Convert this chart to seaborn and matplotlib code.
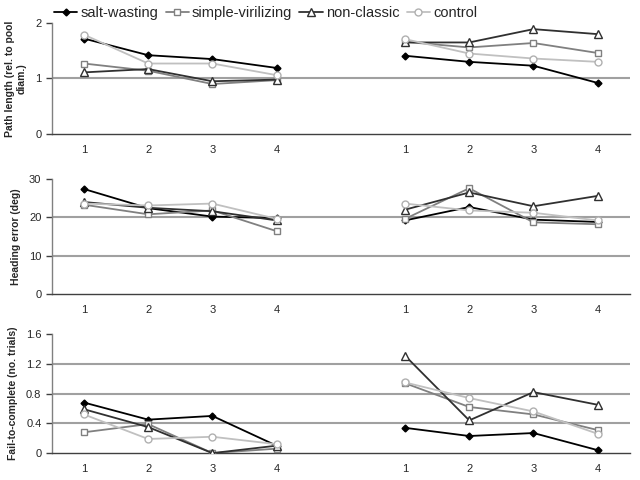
import pandas as pd
import seaborn as sns
import matplotlib.pyplot as plt
from matplotlib.lines import Line2D

# sessions 1-4 in two blocks, one empty slot between them
positions = [0, 1, 2, 3, 5, 6, 7, 8]
block = ["A"] * 4 + ["B"] * 4
tick_labels = ["1", "2", "3", "4", "", "1", "2", "3", "4"]

groups = ["salt-wasting", "simple-virilizing", "non-classic", "control"]

path_length = {
    "salt-wasting":      [1.72, 1.42, 1.35, 1.19, 1.41, 1.30, 1.23, 0.92],
    "simple-virilizing": [1.27, 1.14, 0.90, 0.97, 1.66, 1.56, 1.64, 1.46],
    "non-classic":       [1.11, 1.17, 0.95, 0.98, 1.65, 1.65, 1.89, 1.80],
    "control":           [1.79, 1.27, 1.27, 1.06, 1.71, 1.45, 1.36, 1.30],
}
heading_error = {
    "salt-wasting":      [27.4, 22.4, 20.2, 19.8, 19.2, 22.7, 19.4, 18.8],
    "simple-virilizing": [23.3, 20.8, 21.8, 16.4, 19.6, 27.6, 18.7, 18.2],
    "non-classic":       [24.0, 22.5, 21.6, 19.2, 22.0, 26.5, 22.9, 25.6],
    "control":           [23.6, 23.1, 23.6, 19.6, 23.6, 21.8, 21.2, 19.2],
}
fail_to_complete = {
    "salt-wasting":      [0.68, 0.45, 0.50, 0.10, 0.34, 0.23, 0.27, 0.04],
    "simple-virilizing": [0.28, 0.39, 0.00, 0.06, 0.94, 0.62, 0.52, 0.31],
    "non-classic":       [0.59, 0.35, 0.00, 0.10, 1.31, 0.44, 0.82, 0.65],
    "control":           [0.52, 0.19, 0.22, 0.12, 0.95, 0.74, 0.56, 0.26],
}

styles = {
    "salt-wasting":      dict(color="black", marker="D", mfc="black", mec="black", ms=3.5),
    "simple-virilizing": dict(color="#808080", marker="s", mfc="white", mec="#808080", ms=5),
    "non-classic":       dict(color="#303030", marker="^", mfc="white", mec="#303030", ms=6),
    "control":           dict(color="#c0c0c0", marker="o", mfc="white", mec="#b0b0b0", ms=5),
}

panels = [
    (path_length, "Path length (rel. to pool\ndiam.)", [0, 1, 2], ["0", "1", "2"], (0, 2)),
    (heading_error, "Heading error (deg)", [0, 10, 20, 30], ["0", "10", "20", "30"], (0, 30)),
    (fail_to_complete, "Fail-to-complete (no. trials)", [0, 0.4, 0.8, 1.2, 1.6],
     ["0", "0.4", "0.8", "1.2", "1.6"], (0, 1.6)),
]

sns.set_style("white")
plt.rcParams["font.family"] = ["Liberation Sans", "DejaVu Sans"]

fig = plt.figure(figsize=(6.4, 4.8), dpi=100)
boxes = [[0.081, 0.721, 0.903, 0.231],
         [0.081, 0.3875, 0.903, 0.2395],
         [0.081, 0.056, 0.903, 0.248]]

for (data, ylabel, yticks, ylabs, ylim), box in zip(panels, boxes):
    ax = fig.add_axes(box)
    # grid lines at the interior ticks
    for t in yticks[1:-1]:
        ax.axhline(t, color="#a0a0a0", lw=1.5, zorder=0)
    for g in groups:
        st = styles[g]
        df = pd.DataFrame({"pos": positions, "val": data[g], "block": block})
        sns.lineplot(data=df, x="pos", y="val", units="block", estimator=None,
                     color=st["color"], marker=st["marker"], markerfacecolor=st["mfc"],
                     markeredgecolor=st["mec"], markersize=st["ms"], markeredgewidth=1,
                     lw=1.3, ax=ax, legend=False, zorder=3)
    ax.set_xlim(-0.5, 8.5)
    ax.set_ylim(*ylim)
    ax.set_xticks(range(9))
    ax.set_xticklabels(tick_labels, fontsize=8)
    ax.set_xticks([i - 0.5 for i in range(10)], minor=True)
    ax.tick_params(axis="x", which="major", length=0, pad=8)
    ax.tick_params(axis="x", which="minor", length=4, width=1, color="#404040", direction="out")
    ax.set_yticks(yticks)
    ax.set_yticklabels(ylabs, fontsize=8)
    ax.tick_params(axis="y", length=4, width=1, color="#404040", direction="out", left=True)
    ax.set_xlabel("")
    ax.set_ylabel(ylabel, fontsize=7.5, fontweight="bold", labelpad=6)
    sns.despine(ax=ax)
    for s in ["left", "bottom"]:
        ax.spines[s].set_color("#404040")
        ax.spines[s].set_linewidth(1)
    ax.spines["left"].set_color("#808080")

handles = []
for g in groups:
    st = styles[g]
    handles.append(Line2D([], [], color=st["color"], marker=st["marker"], mfc=st["mfc"],
                          mec=st["mec"], ms=st["ms"], lw=1.3, label=g))
fig.legend(handles=handles, loc="upper center", bbox_to_anchor=(0.415, 1.015), ncol=4,
           frameon=False, fontsize=10.5, handlelength=1.6, handletextpad=0.2,
           columnspacing=0.5)

fig.savefig("out.png", dpi=100)
plt.close(fig)
